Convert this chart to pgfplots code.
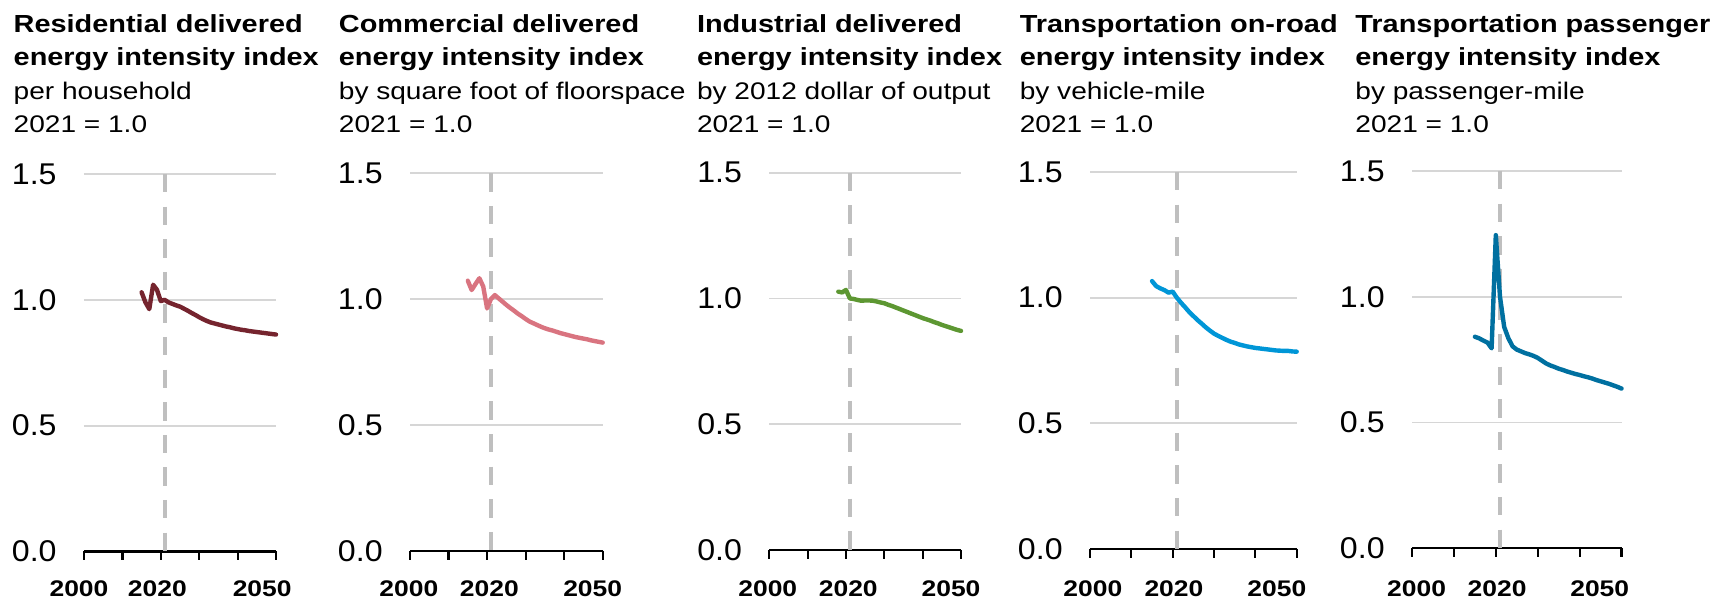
\documentclass[border=0pt]{standalone}
\usepackage{fontspec}
\setmainfont{Liberation Sans}[FakeStretch=1.17]
\newfontfamily\yfont{Liberation Sans}[FakeStretch=1.07]
\usepackage{pgfplots}
\usepackage{pgfplotstable}
\pgfplotsset{compat=1.18}

\definecolor{gridgray}{RGB}{214,214,214}
\definecolor{dashgray}{RGB}{191,191,191}
\definecolor{cA}{RGB}{117,36,46}
\definecolor{cB}{RGB}{217,116,128}
\definecolor{cC}{RGB}{93,151,50}
\definecolor{cD}{RGB}{0,150,215}
\definecolor{cE}{RGB}{0,112,160}

\pgfplotstableread{
year val
2015 1.030
2016 0.990
2017 0.963
2018 1.060
2019 1.040
2020 0.995
2021 1.000
2022 0.990
2023 0.984
2024 0.978
2025 0.973
2026 0.965
2027 0.957
2028 0.948
2029 0.940
2030 0.931
2031 0.923
2032 0.916
2033 0.910
2034 0.906
2035 0.902
2036 0.898
2037 0.894
2038 0.891
2039 0.887
2040 0.884
2041 0.881
2042 0.879
2043 0.876
2044 0.874
2045 0.872
2046 0.870
2047 0.868
2048 0.866
2049 0.864
2050 0.862
}\resdata

\pgfplotstableread{
year val
2015 1.073
2016 1.036
2017 1.060
2018 1.083
2019 1.050
2020 0.963
2021 1.000
2022 1.016
2023 1.003
2024 0.990
2025 0.977
2026 0.965
2027 0.954
2028 0.942
2029 0.932
2030 0.921
2031 0.911
2032 0.904
2033 0.897
2034 0.890
2035 0.884
2036 0.879
2037 0.875
2038 0.870
2039 0.865
2040 0.861
2041 0.857
2042 0.853
2043 0.849
2044 0.846
2045 0.843
2046 0.840
2047 0.836
2048 0.833
2049 0.830
2050 0.827
}\comdata

\pgfplotstableread{
year val
2018 1.027
2019 1.024
2020 1.034
2021 1.000
2022 0.998
2023 0.994
2024 0.991
2025 0.992
2026 0.992
2027 0.991
2028 0.988
2029 0.984
2030 0.981
2031 0.975
2032 0.970
2033 0.964
2034 0.958
2035 0.952
2036 0.946
2037 0.940
2038 0.934
2039 0.928
2040 0.922
2041 0.917
2042 0.912
2043 0.906
2044 0.901
2045 0.895
2046 0.890
2047 0.885
2048 0.880
2049 0.875
2050 0.871
}\inddata

\pgfplotstableread{
year val
2015 1.066
2016 1.046
2017 1.037
2018 1.030
2019 1.020
2020 1.024
2021 1.000
2022 0.980
2023 0.962
2024 0.943
2025 0.927
2026 0.911
2027 0.897
2028 0.882
2029 0.869
2030 0.857
2031 0.848
2032 0.840
2033 0.832
2034 0.825
2035 0.820
2036 0.814
2037 0.810
2038 0.806
2039 0.803
2040 0.800
2041 0.798
2042 0.796
2043 0.794
2044 0.792
2045 0.790
2046 0.789
2047 0.788
2048 0.788
2049 0.786
2050 0.785
}\roaddata

\pgfplotstableread{
year val
2015 0.841
2016 0.835
2017 0.826
2018 0.818
2019 0.795
2020 1.245
2021 1.000
2022 0.880
2023 0.835
2024 0.803
2025 0.790
2026 0.783
2027 0.776
2028 0.771
2029 0.765
2030 0.757
2031 0.746
2032 0.735
2033 0.727
2034 0.721
2035 0.714
2036 0.709
2037 0.703
2038 0.698
2039 0.693
2040 0.689
2041 0.684
2042 0.680
2043 0.675
2044 0.669
2045 0.664
2046 0.659
2047 0.654
2048 0.648
2049 0.642
2050 0.635
}\passdata

\newcommand\xfont{\fontsize{11.3pt}{12pt}\selectfont\bfseries}
\newcommand\tfont{\fontsize{12.35pt}{14pt}\selectfont\bfseries}
\newcommand\sfont{\fontsize{12pt}{14pt}\selectfont}

\tikzset{tk/.style={draw=black, line width=1.1pt, line cap=butt}}

\pgfplotsset{
  panel/.style={
    scale only axis, anchor=south west,
    xmin=2000, xmax=2050, ymin=0, ymax=1.5,
    axis x line*=bottom, axis y line*=left,
    y axis line style={draw=none},
    x axis line style={black, line width=1.1pt},
    xtick=\empty,
    ytick={0,0.5,1,1.5}, yticklabels={0.0,0.5,1.0,1.5},
    major tick length=0pt,
    ytick style={draw=none},
    yticklabel style={font=\yfont\fontsize{15pt}{16pt}\selectfont, anchor=east, inner sep=0pt, xshift=-13.5pt},
    ymajorgrids, major grid style={draw=gridgray, line width=0.9pt},
    clip=false,
  },
  dline/.style={dashgray, line width=2pt, dash pattern=on 9.2pt off 7.1pt, forget plot},
  dataline/.style={line width=2.2pt, line cap=round, line join=round, no markers},
}
\newcommand\xticks{%
  \draw[tk] (axis cs:2000,0) -- ([yshift=-4.5pt]axis cs:2000,0);
  \draw[tk] (axis cs:2010,0) -- ([yshift=-4.5pt]axis cs:2010,0);
  \draw[tk] (axis cs:2020,0) -- ([yshift=-4.5pt]axis cs:2020,0);
  \draw[tk] (axis cs:2030,0) -- ([yshift=-4.5pt]axis cs:2030,0);
  \draw[tk] (axis cs:2040,0) -- ([yshift=-4.5pt]axis cs:2040,0);
  \draw[tk] (axis cs:2050,0) -- ([yshift=-4.5pt]axis cs:2050,0);
}

\begin{document}
\begin{tikzpicture}
\useasboundingbox (0,0) rectangle (861.5pt,299.5pt);

% Panel 1
\begin{axis}[panel, at={(42pt,23.75pt)}, width=96pt, height=188.75pt]
\addplot[dline] coordinates {(2021,1.5) (2021,0)};
\addplot[dataline, cA] table[x=year,y=val] {\resdata};
\xticks
\node[anchor=north, inner sep=0pt, font=\xfont, yshift=-14.25pt] at (axis cs:1998.7,0) {2000};
\node[anchor=north, inner sep=0pt, font=\xfont, yshift=-14.25pt] at (axis cs:2019.1,0) {2020};
\node[anchor=north, inner sep=0pt, font=\xfont, yshift=-14.25pt] at (axis cs:2046.4,0) {2050};
\end{axis}

% Panel 2
\begin{axis}[panel, at={(205pt,24.15pt)}, width=96.35pt, height=188.7pt]
\addplot[dline] coordinates {(2021,1.5) (2021,0)};
\addplot[dataline, cB] table[x=year,y=val] {\comdata};
\xticks
\node[anchor=north, inner sep=0pt, font=\xfont, yshift=-14.65pt] at (axis cs:1999.7,0) {2000};
\node[anchor=north, inner sep=0pt, font=\xfont, yshift=-14.65pt] at (axis cs:2020.6,0) {2020};
\node[anchor=north, inner sep=0pt, font=\xfont, yshift=-14.65pt] at (axis cs:2047.4,0) {2050};
\end{axis}

% Panel 3
\begin{axis}[panel, at={(384.65pt,24.5pt)}, width=95.85pt, height=188.65pt]
\addplot[dline] coordinates {(2021,1.5) (2021,0)};
\addplot[dataline, cC] table[x=year,y=val] {\inddata};
\xticks
\node[anchor=north, inner sep=0pt, font=\xfont, yshift=-15pt] at (axis cs:1999.6,0) {2000};
\node[anchor=north, inner sep=0pt, font=\xfont, yshift=-15pt] at (axis cs:2020.6,0) {2020};
\node[anchor=north, inner sep=0pt, font=\xfont, yshift=-15pt] at (axis cs:2047.4,0) {2050};
\end{axis}

% Panel 4
\begin{axis}[panel, at={(545pt,25pt)}, width=103.35pt, height=188.5pt]
\addplot[dline] coordinates {(2021,1.5) (2021,0)};
\addplot[dataline, cD] table[x=year,y=val] {\roaddata};
\xticks
\node[anchor=north, inner sep=0pt, font=\xfont, yshift=-15.5pt] at (axis cs:2000.7,0) {2000};
\node[anchor=north, inner sep=0pt, font=\xfont, yshift=-15.5pt] at (axis cs:2020.3,0) {2020};
\node[anchor=north, inner sep=0pt, font=\xfont, yshift=-15.5pt] at (axis cs:2045.2,0) {2050};
\end{axis}

% Panel 5
\begin{axis}[panel, at={(706pt,25.35pt)}, width=104.75pt, height=188.65pt]
\addplot[dline] coordinates {(2021,1.5) (2021,0)};
\addplot[dataline, cE] table[x=year,y=val] {\passdata};
\xticks
\node[anchor=north, inner sep=0pt, font=\xfont, yshift=-15.85pt] at (axis cs:2001.1,0) {2000};
\node[anchor=north, inner sep=0pt, font=\xfont, yshift=-15.85pt] at (axis cs:2020.3,0) {2020};
\node[anchor=north, inner sep=0pt, font=\xfont, yshift=-15.85pt] at (axis cs:2044.8,0) {2050};
\end{axis}

% Titles
\begin{scope}[every node/.style={anchor=base west, inner sep=0pt}]
\node[font=\tfont] at (6.65pt,283.35pt) {Residential delivered};
\node[font=\tfont] at (6.65pt,266.5pt) {energy intensity index};
\node[font=\sfont] at (6.65pt,249.5pt) {per household};
\node[font=\sfont] at (6.65pt,233pt) {2021 = 1.0};

\node[font=\tfont] at (169.25pt,283.35pt) {Commercial delivered};
\node[font=\tfont] at (169.25pt,266.5pt) {energy intensity index};
\node[font=\sfont] at (169.25pt,249.5pt) {by square foot of floorspace};
\node[font=\sfont] at (169.25pt,233pt) {2021 = 1.0};

\node[font=\tfont] at (348.3pt,283.35pt) {Industrial delivered};
\node[font=\tfont] at (348.3pt,266.5pt) {energy intensity index};
\node[font=\sfont] at (348.3pt,249.5pt) {by 2012 dollar of output};
\node[font=\sfont] at (348.3pt,233pt) {2021 = 1.0};

\node[font=\tfont] at (509.7pt,283.35pt) {Transportation on-road};
\node[font=\tfont] at (509.7pt,266.5pt) {energy intensity index};
\node[font=\sfont] at (509.7pt,249.5pt) {by vehicle-mile};
\node[font=\sfont] at (509.7pt,233pt) {2021 = 1.0};

\node[font=\tfont] at (677.5pt,283.35pt) {Transportation passenger};
\node[font=\tfont] at (677.5pt,266.5pt) {energy intensity index};
\node[font=\sfont] at (677.5pt,249.5pt) {by passenger-mile};
\node[font=\sfont] at (677.5pt,233pt) {2021 = 1.0};
\end{scope}
\end{tikzpicture}
\end{document}
